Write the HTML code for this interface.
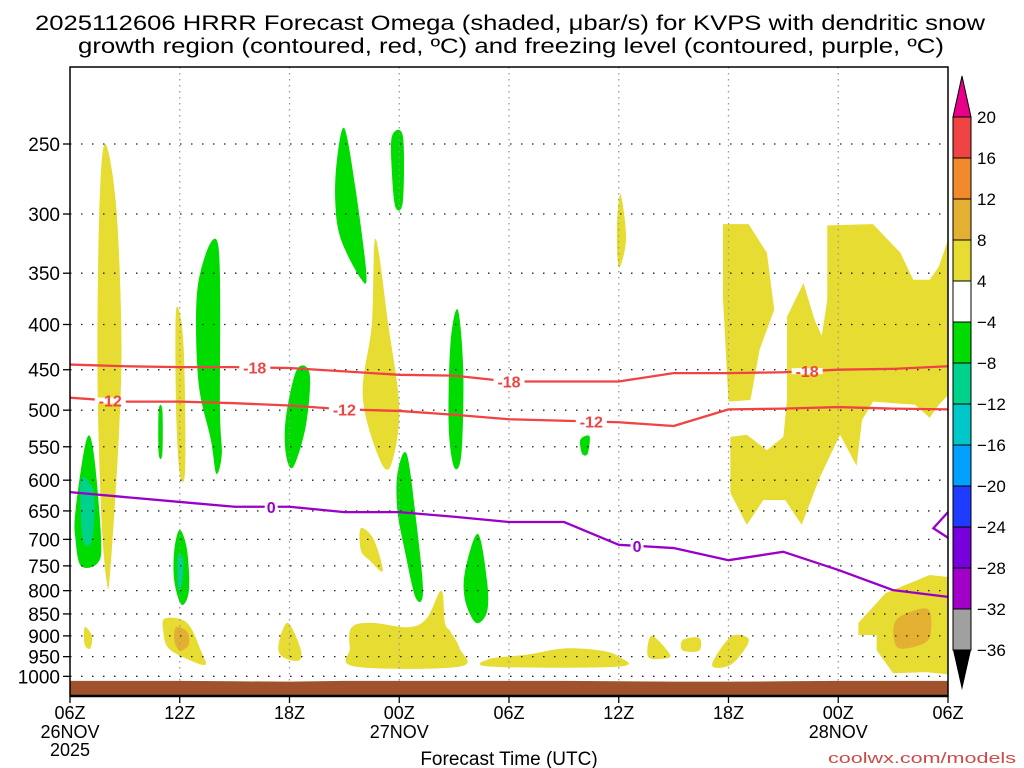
<!DOCTYPE html>
<html><head><meta charset="utf-8"><style>
html,body{margin:0;padding:0;background:#fff;}
svg{display:block;font-family:"Liberation Sans",sans-serif;}
</style></head><body>
<svg id="chart" width="1024" height="768" viewBox="0 0 1024 768">
<text x="510" y="30" text-anchor="middle" font-size="21" textLength="950" lengthAdjust="spacingAndGlyphs">2025112606 HRRR Forecast Omega (shaded, μbar/s) for KVPS with dendritic snow</text>
<text x="511" y="53" text-anchor="middle" font-size="21" textLength="866" lengthAdjust="spacingAndGlyphs">growth region (contoured, red, ºC) and freezing level (contoured, purple, ºC)</text>
<g id="plot"></g>
<text x="509" y="765" text-anchor="middle" font-size="19">Forecast Time (UTC)</text>
<text x="1016" y="763" text-anchor="end" font-size="15" fill="#d04848" textLength="188" lengthAdjust="spacingAndGlyphs">coolwx.com/models</text>
<g id="cbar"></g>
</svg>
<script>
// ---- data ----
const xTickLabels = ["06Z","12Z","18Z","00Z","06Z","12Z","18Z","00Z","06Z"];
const xDateLabels = ["26NOV","","","27NOV","","","","28NOV",""];
const pLevels = [250,300,350,400,450,500,550,600,650,700,750,800,850,900,950,1000];
const contourHours = [0,3,6,9,12,15,18,21,24,27,30,33,36,39,42,45,48];
const dgzTop = [444,446,447,447,448,452,456,457,464,464,464,454,454,453,450,449,446];
const dgzBottom = [484,489,489,491,494,499,501,506,512,514,516,521,499,498,496,498,499];
const freezing = [619,627,635,643,643,652,652,660,669,669,710,716,739,723,758,799,813];
const freezingLoop = [[48,652],[47.2,680],[48,697]];
const cbLevels = [20,16,12,8,4,-4,-8,-12,-16,-20,-24,-28,-32,-36];
const cbColors = ["#f04444","#f08a2c","#e4b032","#e6dc32","#ffffff","#00dc00","#00d28c","#00c8c8","#00a0ff","#1e3cff","#7800dc","#a000c8","#a0a0a0"];
const yellowBlobs = [
 [[1.9,250],[2.5,290],[2.8,400],[2.7,520],[2.2,760],[2.0,780],[1.7,650],[1.5,450],[1.6,300]],
 [[5.8,385],[6.2,420],[6.3,580],[6.0,590],[5.8,500]],
 [[16.7,320],[17.4,400],[18.0,500],[17.5,580],[16.8,560],[16.0,480],[16.5,400]],
 [[15.9,680],[16.6,700],[17.1,760],[16.4,740],[15.9,720]],
 [[30.1,285],[30.4,320],[30.0,345],[29.9,310]],
 [[0.8,880],[1.2,900],[1.1,930],[0.8,920]],
 [[5.2,860],[6.4,870],[7.2,940],[7.4,970],[6.6,960],[5.4,930],[5.1,890]],
 [[11.9,870],[12.6,930],[12.5,960],[11.6,950],[11.4,920]],
 [[15.4,880],[16.5,870],[18.5,880],[19.5,860],[20.3,800],[20.5,870],[20.8,890],[21.3,930],[21.3,975],[15.6,975],[15.3,930]],
 [[23.0,955],[25,945],[27,930],[29,935],[30,950],[30,975],[23,975]],
 [[31.8,900],[32.8,945],[32.4,955],[31.6,950]],
 [[33.5,910],[34.4,905],[34.4,935],[33.5,935]],
 [[35.1,971],[36.1,903],[37.0,903],[37.0,924],[36.1,971]]
];
const yellowAngular = [
 [[35.7,308],[37.1,308],[38.1,332],[38.5,385],[37.7,427],[37.2,487],[36.0,489],[35.7,375]],
 [[40.1,359],[40.7,395],[41.1,412],[41.4,375],[41.4,309],[43.9,308],[45.4,332],[46.1,356],[47.0,356],[47.5,344],[48,321],[48,481],[47.5,493],[47.0,510],[46.2,493],[43.9,489],[43.3,513],[43.0,578],[42.1,533],[41.0,595],[40.0,674],[39.1,632],[37.9,632],[37.0,674],[36.1,620],[36.1,536],[37.0,533],[38.1,555],[39.0,536],[39.2,487],[39.2,392]],
 [[43.1,870],[44.6,805],[47.0,768],[48,772],[48,995],[46.8,989],[45.0,992],[44.1,934],[44.1,898],[43.1,898]]
];
const orangeBlobs = [
 [[5.8,880],[6.4,890],[6.5,920],[6.0,935],[5.7,910]],
 [[45.1,868],[46.2,842],[47.0,844],[47.0,903],[46.3,924],[45.2,926]]
];
const greenBlobs = [
 [[0.3,650],[0.9,540],[1.3,560],[1.7,700],[1.5,745],[0.6,750],[0.3,700]],
 [[5.7,720],[6.0,683],[6.4,720],[6.5,800],[6.1,830],[5.7,780]],
 [[7.0,360],[8.1,325],[8.2,500],[8.3,560],[8.0,590],[7.7,540],[7.0,460]],
 [[4.85,500],[5.05,500],[5.05,560],[4.85,560]],
 [[11.8,510],[12.4,450],[13.1,455],[12.9,520],[12.2,580],[11.8,560]],
 [[14.6,260],[15.0,240],[15.6,280],[16.2,350],[15.9,355],[14.8,320],[14.5,290]],
 [[17.6,245],[18.2,245],[18.2,290],[17.8,295],[17.6,270]],
 [[20.8,420],[21.2,385],[21.5,450],[21.4,560],[21.0,580],[20.7,520]],
 [[17.9,590],[18.4,560],[18.9,660],[19.3,800],[18.9,815],[18.3,720],[17.9,650]],
 [[21.6,760],[22.3,690],[22.8,780],[22.8,845],[22.2,870],[21.6,820]],
 [[27.9,540],[28.4,535],[28.3,560],[28.0,560]]
];
const tealBlobs = [
 [[0.6,600],[1.3,620],[1.2,700],[0.7,700]],
 [[5.9,730],[6.2,740],[6.1,790],[5.9,790]]
];
const dgzTopLabels = [10.1,24,40.3];
const dgzBottomLabels = [2.2,15,28.5];
const freezingLabels = [11,31];
const groundTop = [1012,1012,1012,1013,1014,1012,1012,1012,1012,1012,1013,1014,1014,1013,1012,1012,1012];

// ---- axes ----
const X0=70,X1=948,Y0=67,Y1=696,HRS=48;
const x=h=>X0+(X1-X0)*h/HRS;
const y=p=>144+384*Math.log(p/250);
const NS="http://www.w3.org/2000/svg";
function mk(tag,attrs,parent){const e=document.createElementNS(NS,tag);for(const k in attrs)e.setAttribute(k,attrs[k]);parent.appendChild(e);return e;}
const plot=document.getElementById('plot');
function smoothPath(pts){
 const P=pts.map(q=>[x(q[0]),y(q[1])]);const n=P.length;let d=`M${P[0][0]},${P[0][1]}`;
 for(let i=0;i<n;i++){const p0=P[(i-1+n)%n],p1=P[i],p2=P[(i+1)%n],p3=P[(i+2)%n];
  d+=` C${p1[0]+(p2[0]-p0[0])/6},${p1[1]+(p2[1]-p0[1])/6} ${p2[0]-(p3[0]-p1[0])/6},${p2[1]-(p3[1]-p1[1])/6} ${p2[0]},${p2[1]}`;}
 return d+'Z';}
function polyPath(pts){return 'M'+pts.map(q=>x(q[0])+','+y(q[1])).join(' L')+'Z';}
const clip=mk('clipPath',{id:'pc'},plot);mk('rect',{x:X0,y:Y0,width:X1-X0,height:Y1-Y0},clip);
const shade=mk('g',{'clip-path':'url(#pc)'},plot);


yellowBlobs.forEach(b=>{const e=mk('path',{d:smoothPath(b),fill:'#e6dc32'},shade);
 
 });
yellowAngular.forEach(b=>{const e=mk('path',{d:polyPath(b),fill:'#e6dc32'},shade);
 
 });
orangeBlobs.forEach(b=>{const e=mk('path',{d:smoothPath(b),fill:'#e4b032'},shade);
 
 });
greenBlobs.forEach(b=>{const e=mk('path',{d:smoothPath(b),fill:'#00dc00'},shade);
 
 });
tealBlobs.forEach(b=>{const e=mk('path',{d:smoothPath(b),fill:'#00d28c'},shade);
 
 });
// grid
for(let i=1;i<xTickLabels.length-1;i++){const e=mk('line',{x1:x(i*6),x2:x(i*6),y1:Y0,y2:Y1,stroke:'#999','stroke-dasharray':'1.5,4.5','stroke-width':1.3},plot);
 
 }
pLevels.forEach(p=>{const e=mk('line',{x1:X0,x2:X1,y1:y(p),y2:y(p),stroke:'#222','stroke-dasharray':'1.5,9.5','stroke-width':1.3},plot);
 
 });
// ground
let gd=`M${X0},${Y1}`;contourHours.forEach((h,i)=>{gd+=` L${x(h)},${y(groundTop[i])}`;});gd+=` L${X1},${Y1}Z`;
const gr=mk('path',{d:gd,fill:'#a0522d'},plot);


// contours
function line(vals,color,name){let d='';contourHours.forEach((h,i)=>{d+=(i?' L':'M')+x(h)+','+y(vals[i]);});
 const e=mk('path',{d:d,fill:'none',stroke:color,'stroke-width':2.3,'stroke-linejoin':'round'},plot);
 
 }
line(dgzTop,'#f04444','dgz-minus18-contour');
line(dgzBottom,'#f04444','dgz-minus12-contour');
line(freezing,'#9a00c8','freezing-level-contour');
{const e=mk('path',{d:'M'+freezingLoop.map(q=>x(q[0])+','+y(q[1])).join(' L'),fill:'none',stroke:'#9a00c8','stroke-width':2.3},plot);
 
 }
function interp(vals,h){for(let i=0;i<contourHours.length-1;i++){if(h>=contourHours[i]&&h<=contourHours[i+1]){const t=(h-contourHours[i])/3;return vals[i]+(vals[i+1]-vals[i])*t;}}return vals[vals.length-1];}
function clabel(vals,hrs,txt,color,name){hrs.forEach(h=>{const cx=x(h),cy=y(interp(vals,h));
 const w=txt.length*9+4;
 mk('rect',{x:cx-w/2,y:cy-3,width:w,height:6,fill:'#fff'},plot);
 const t=mk('text',{x:cx,y:cy+6,'text-anchor':'middle','font-size':16,'font-weight':'bold',fill:color},plot);t.textContent=txt;
 
 });}
clabel(dgzTop,dgzTopLabels,'-18','#f04444','dgz-minus18-label');
clabel(dgzBottom,dgzBottomLabels,'-12','#f04444','dgz-minus12-label');
clabel(freezing,freezingLabels,'0','#9a00c8','freezing-level-label');
// border
{const e=mk('rect',{x:X0,y:Y0,width:X1-X0,height:Y1-Y0,fill:'none',stroke:'#000','stroke-width':1.5},plot);
 
 }
mk('line',{x1:X0,x2:X1,y1:Y1,y2:Y1,stroke:'#000','stroke-width':2.5},plot);
// y ticks
pLevels.forEach(p=>{mk('line',{x1:X0-7,x2:X0,y1:y(p),y2:y(p),stroke:'#000','stroke-width':1.3},plot);
 const t=mk('text',{x:X0-10,y:y(p)+7,'text-anchor':'end','font-size':19},plot);t.textContent=p;
 
 });
// x ticks
xTickLabels.forEach((l,i)=>{const cx=x(i*6);mk('line',{x1:cx,x2:cx,y1:Y1,y2:Y1+7,stroke:'#000','stroke-width':1.3},plot);
 const t=mk('text',{x:cx,y:719,'text-anchor':'middle','font-size':18},plot);t.textContent=l;
 
 
 if(xDateLabels[i]){const d=mk('text',{x:cx,y:738,'text-anchor':'middle','font-size':18},plot);d.textContent=xDateLabels[i];
  
  }});
{const t=mk('text',{x:x(0),y:756,'text-anchor':'middle','font-size':18},plot);t.textContent='2025';
 
 }
// colorbar
const cb=document.getElementById('cbar');const CX0=953,CX1=971,CT=117,STEP=(650-117)/13;
const cy=i=>CT+STEP*i;
mk('path',{d:`M${CX0},${CT} L${(CX0+CX1)/2},76 L${CX1},${CT}Z`,fill:'#e8008a',stroke:'#000','stroke-width':1},cb);
cbColors.forEach((c,i)=>{const r=mk('rect',{x:CX0,y:cy(i),width:CX1-CX0,height:STEP,fill:c,stroke:'#000','stroke-width':1},cb);
 
 });
mk('path',{d:`M${CX0},${cy(13)} L${(CX0+CX1)/2},690 L${CX1},${cy(13)}Z`,fill:'#000'},cb);
cbLevels.forEach((v,i)=>{const t=mk('text',{x:977,y:cy(i)+6,'font-size':17},cb);t.textContent=v<0?'\u2212'+(-v):String(v);
 
 });
</script>
</body></html>
